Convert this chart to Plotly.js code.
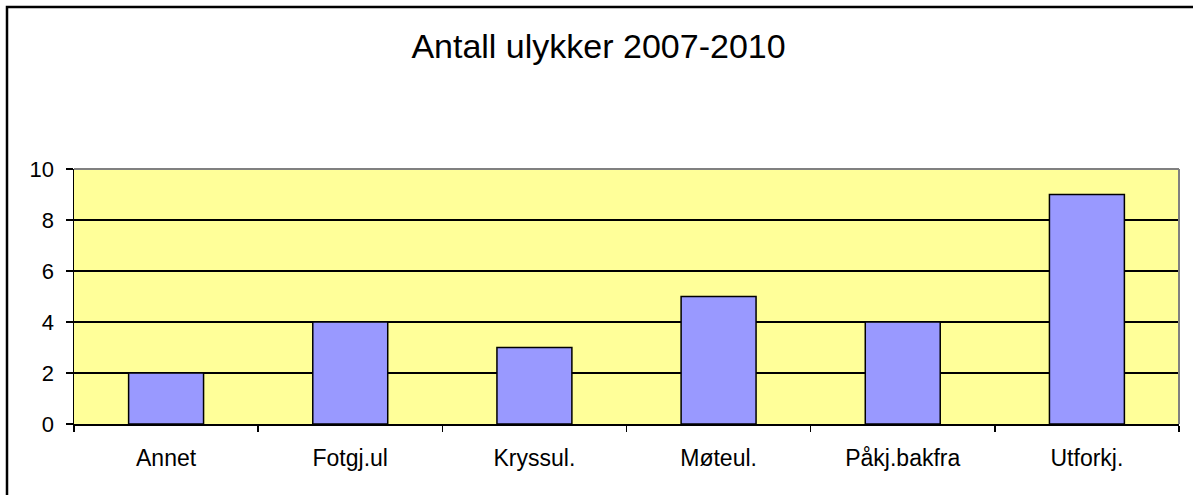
<!DOCTYPE html>
<html>
<head>
<meta charset="utf-8">
<script src="https://cdn.plot.ly/plotly-3.0.1.min.js"></script>
<style>
html,body{margin:0;padding:0;background:#fff;}
#chart{width:1193px;height:495px;}
</style>
</head>
<body>
<div id="chart"></div>
<script>
const categories = ["Annet", "Fotgj.ul", "Kryssul.", "Møteul.", "Påkj.bakfra", "Utforkj."];
const values = [2, 4, 3, 5, 4, 9];
const yTicks = [0, 2, 4, 6, 8, 10];
const titleText = "Antall ulykker 2007-2010";

const font = "Liberation Sans, Arial, sans-serif";

const trace = {
  type: "bar",
  x: categories,
  y: values,
  marker: {color: "#9999FF", line: {color: "#000000", width: 1.5}},
  hoverinfo: "x+y"
};

const layout = {
  width: 1193,
  height: 495,
  margin: {l: 74, r: 14, t: 169, b: 71},
  paper_bgcolor: "#ffffff",
  plot_bgcolor: "#FFFF99",
  showlegend: false,
  bargap: 0.593,
  title: {
    text: titleText,
    font: {family: font, size: 34, color: "#000000"},
    x: 598.5 / 1193, xref: "container", xanchor: "center",
    y: 1 - 46/495, yref: "container", yanchor: "middle"
  },
  xaxis: {
    type: "category",
    showline: true, linecolor: "#000000", linewidth: 1.5,
    ticks: "outside", tickson: "boundaries", ticklen: 6, tickcolor: "#000000", tickwidth: 1.5,
    showgrid: false, zeroline: false,
    tickfont: {family: font, size: 23, color: "#000000"},
    ticklabelstandoff: 13
  },
  yaxis: {
    range: [0, 10],
    tickvals: yTicks,
    ticktext: yTicks.map(String),
    showline: true, linecolor: "#000000", linewidth: 1.5,
    ticks: "outside", ticklen: 7, tickcolor: "#000000", tickwidth: 1.5,
    showgrid: true, gridcolor: "#000000", gridwidth: 1.2,
    zeroline: false,
    tickfont: {family: font, size: 22, color: "#000000"},
    ticklabelstandoff: 7
  },
  shapes: [
    {type: "line", xref: "paper", yref: "paper", x0: 0, x1: 1, y0: 1, y1: 1,
     line: {color: "#808080", width: 2}, layer: "above"},
    {type: "line", xref: "paper", yref: "paper", x0: 1, x1: 1, y0: 0, y1: 1,
     line: {color: "#808080", width: 2}, layer: "above"},
    {type: "rect", xref: "paper", yref: "paper",
     x0: (7 - 74) / 1105, x1: 1.2, y0: -1, y1: (424 - 7) / 255,
     line: {color: "#000000", width: 2.5}, fillcolor: "rgba(0,0,0,0)", layer: "above"}
  ]
};

Plotly.newPlot("chart", [trace], layout, {displayModeBar: false, staticPlot: true});
</script>
</body>
</html>
